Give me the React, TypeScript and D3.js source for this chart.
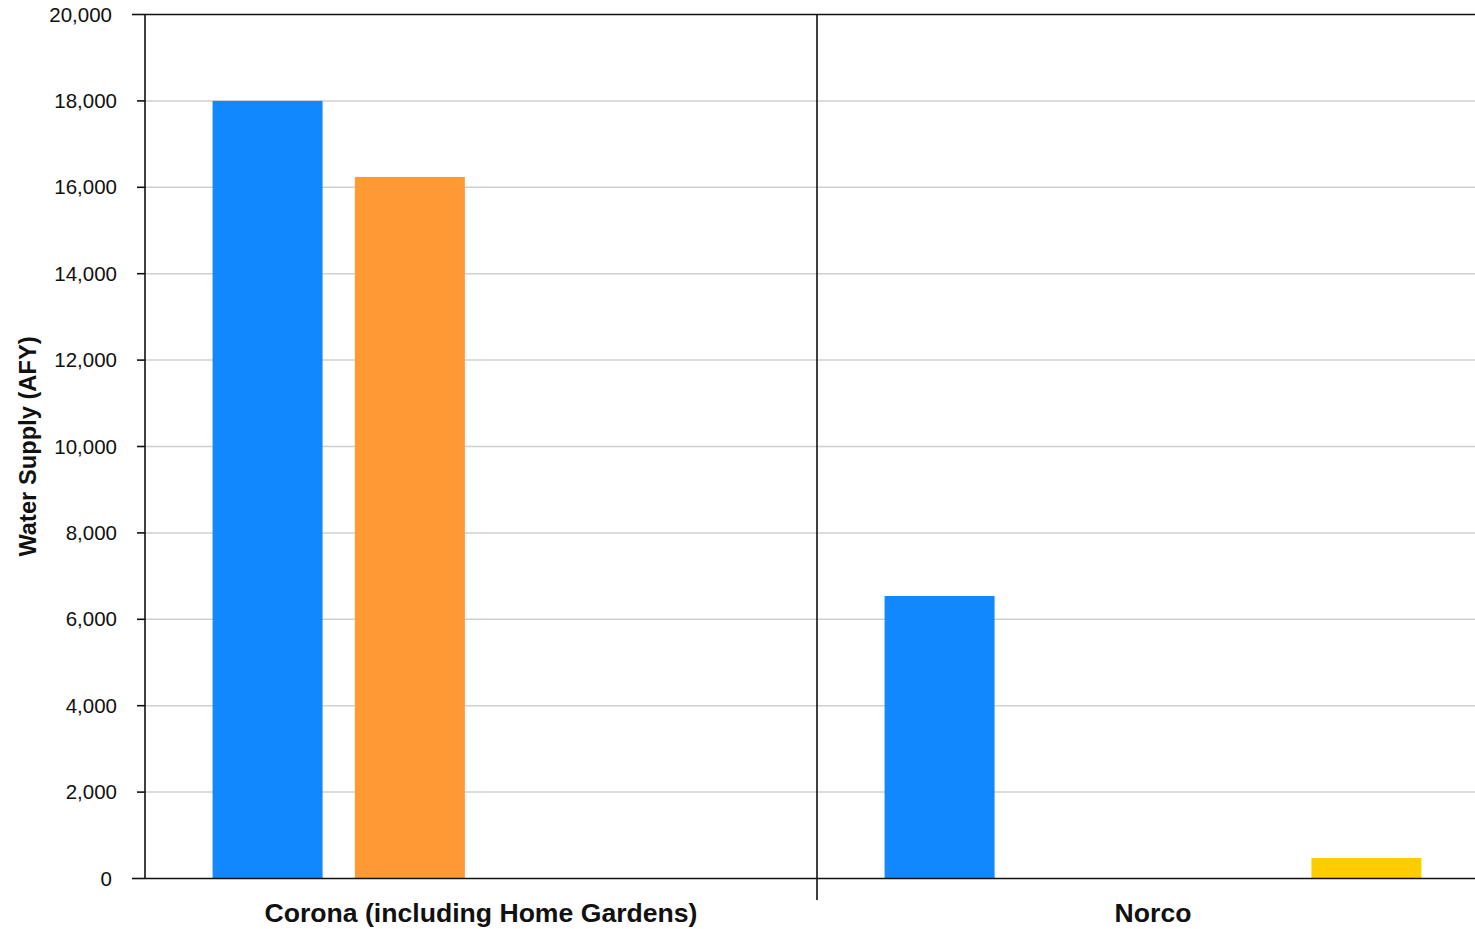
import React from 'react'
import { scaleBand, scaleLinear, format } from 'd3'

// categories + series (no legend in the source, names are just keys)
const categories = ['Corona (including Home Gardens)', 'Norco']
const seriesNames = ['Groundwater', 'Imported', 'Recycled', 'Other']
const seriesColors = ['#1288ff', '#ff9933', '#99cc33', '#ffcc00']

const coronaValues = [18000, 16240, 0, 0]
const norcoValues = [6540, 0, 0, 475]
const valuesByCategory = [coronaValues, norcoValues]

const yTicks = [0, 2000, 4000, 6000, 8000, 10000, 12000, 14000, 16000, 18000, 20000]
const yTitle = 'Water Supply (AFY)'

const width = 1475
const height = 929
const left = 145
const right = 1489
const top = 14.5
const bottom = 878.5

const fmt = format(',')

export default function App() {
  const y = scaleLinear().domain([0, 20000]).range([bottom, top])
  const x0 = scaleBand<string>().domain(categories).range([left, right])
  const x1 = scaleBand<string>()
    .domain(seriesNames)
    .range([0, x0.bandwidth()])
    .paddingInner(0.227)
    .paddingOuter(0.475)

  const [yMin, yMax] = y.domain()
  // the end ticks are longer, their labels sit further out
  const isEnd = (t: number) => t === yMin || t === yMax

  return (
    <svg
      width={width}
      height={height}
      style={{ position: 'absolute', left: 0, top: 0, background: '#fff' }}
      fontFamily="'Liberation Sans', Arial, sans-serif"
    >
      {/* grid */}
      {yTicks.filter(t => !isEnd(t)).map(t => (
        <line key={'g' + t} x1={left} x2={width} y1={y(t)} y2={y(t)} stroke="#d0d0d0" strokeWidth={1.5} />
      ))}

      {/* bars */}
      {categories.map((c, ci) => (
        <g key={c} transform={`translate(${x0(c)},0)`}>
          {seriesNames.map((s, si) => {
            const v = valuesByCategory[ci][si]
            if (!v) return null
            return (
              <rect
                key={s}
                x={x1(s)}
                y={y(v)}
                width={x1.bandwidth()}
                height={y(0) - y(v)}
                fill={seriesColors[si]}
              />
            )
          })}
        </g>
      ))}

      {/* frame / axes */}
      <line x1={left} x2={width} y1={top} y2={top} stroke="#111" strokeWidth={1.6} />
      <line x1={left} x2={width} y1={bottom} y2={bottom} stroke="#111" strokeWidth={1.6} />
      <line x1={left} x2={left} y1={top} y2={bottom} stroke="#111" strokeWidth={1.6} />
      {categories.slice(1).map(c => (
        <line key={'d' + c} x1={x0(c)} x2={x0(c)} y1={top} y2={900} stroke="#111" strokeWidth={1.6} />
      ))}

      {/* y ticks */}
      {yTicks.map(t => (
        <g key={'t' + t}>
          <line x1={isEnd(t) ? 132 : 137} x2={left} y1={y(t)} y2={y(t)} stroke="#111" strokeWidth={1.6} />
          <text
            x={isEnd(t) ? 112 : 117}
            y={y(t)}
            dy="0.35em"
            textAnchor="end"
            fontSize={20.5}
            fill="#111"
          >
            {fmt(t)}
          </text>
        </g>
      ))}

      {/* category labels */}
      {categories.map(c => (
        <text
          key={'l' + c}
          x={(x0(c) as number) + x0.bandwidth() / 2}
          y={922}
          textAnchor="middle"
          fontSize={26.6}
          fontWeight="bold"
          fill="#111"
        >
          {c}
        </text>
      ))}

      <text
        transform={`translate(36,${(top + bottom) / 2}) rotate(-90)`}
        textAnchor="middle"
        fontSize={23.7}
        fontWeight="bold"
        fill="#111"
      >
        {yTitle}
      </text>
    </svg>
  )
}
